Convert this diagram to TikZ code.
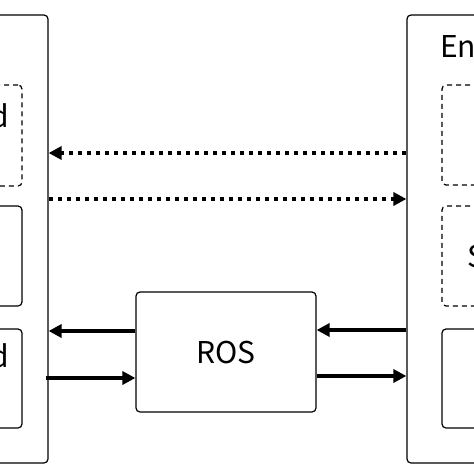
\documentclass[tikz,border=0pt]{standalone}
\usepackage{fontspec}
\setmainfont{Noto Sans CJK JP}
\usetikzlibrary{positioning,calc,arrows.meta}

\begin{document}
\begin{tikzpicture}[x=1pt,y=-1pt,>={Triangle[length=13pt,width=13pt]},
        main node/.style={draw, rectangle, rounded corners=4pt, line width=1.2pt, inner sep=0pt},
        dash node/.style={main node, dashed, dash pattern=on 5pt off 4pt},
        thick arrow/.style={->, line width=4pt},
        dot arrow/.style={->, line width=4pt, dash pattern=on 4pt off 5pt},
        label node/.style={inner sep=0pt, font=\fontsize{30}{36}\selectfont}]

\useasboundingbox (0,0) rectangle (474,474);
\clip (0,0) rectangle (474,474);

\node[main node, minimum width=198pt, minimum height=448pt] (1) at (-51,239) {};
\node[dash node, minimum width=122pt, minimum height=101pt] (2) at (-39,135.5) {};
\node[main node, minimum width=122pt, minimum height=100pt] (3) at (-39,256) {};
\node[main node, minimum width=122pt, minimum height=99pt] (4) at (-39,378.5) {};
\node[label node, anchor=base east] (5) at (9,127) {d};
\node[label node, anchor=base east] (6) at (9,367) {d};

\node[main node, minimum width=180pt, minimum height=120pt] (7) at (226,352) {};
\node[label node] (8) at (7.center) {ROS};

\node[main node, minimum width=200pt, minimum height=448pt] (9) at (507,239) {};
\node[dash node, minimum width=140pt, minimum height=100pt] (10) at (512,135) {};
\node[dash node, minimum width=140pt, minimum height=100pt] (11) at (512,256) {};
\node[main node, minimum width=140pt, minimum height=99pt] (12) at (512,378.5) {};
\node[label node, anchor=base west] (13) at (440,57) {En};
\node[label node, anchor=base west] (14) at (467,267) {S};

\coordinate (a) at ([yshift=86pt]9.west);
\coordinate (b) at ([yshift=40pt]1.east);
\draw[dot arrow] (a) -- (a -| 1.east);
\draw[dot arrow] (b) -- (b -| 9.west);

\coordinate (c) at ([yshift=21pt]7.west);
\coordinate (d) at ([yshift=-26pt]7.west);
\coordinate (e) at ([yshift=22pt]7.east);
\coordinate (f) at ([yshift=-24pt]7.east);
\draw[thick arrow] (c) -- (c -| 1.east);
\draw[thick arrow] ([xshift=-3pt]d -| 1.east) -- (d);
\draw[thick arrow] (e -| 9.west) -- (e);
\draw[thick arrow] (f) -- (f -| 9.west);

\end{tikzpicture}
\end{document}
